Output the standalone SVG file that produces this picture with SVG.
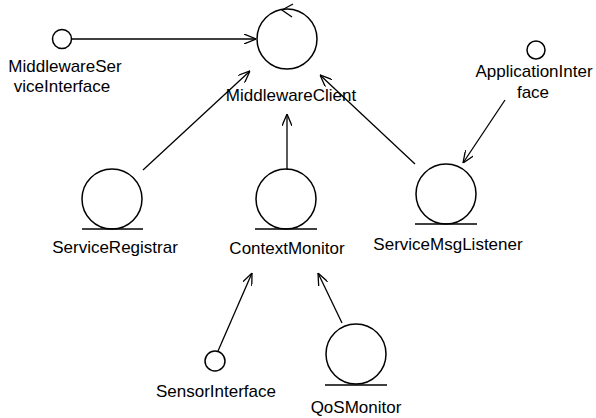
<svg xmlns="http://www.w3.org/2000/svg" width="596" height="418" viewBox="0 0 596 418">
<style>
.c{fill:none;stroke:#000;stroke-width:1.5}
.g{stroke:#000;stroke-width:1.5}
.l{fill:none;stroke:#000;stroke-width:1.3}
.t{font-family:"Liberation Sans",Arial,sans-serif;font-size:17px;fill:#000;text-anchor:middle}
</style>
<defs>
<marker id="arr" viewBox="0 0 12 10" refX="12" refY="5" markerWidth="12" markerHeight="10" markerUnits="userSpaceOnUse" orient="auto">
<path d="M0,0 L12,5 L0,10" fill="none" stroke="#000" stroke-width="1.3"/>
</marker>
</defs>
<rect width="596" height="418" fill="#fff"/>
<g id="connectors">
<line class="l" x1="72" y1="39" x2="256" y2="39" marker-end="url(#arr)"/>
<line class="l" x1="143" y1="170" x2="250" y2="71" marker-end="url(#arr)"/>
<line class="l" x1="287" y1="170" x2="287" y2="114" marker-end="url(#arr)"/>
<line class="l" x1="415" y1="164" x2="320" y2="75" marker-end="url(#arr)"/>
<line class="l" x1="505" y1="100" x2="463" y2="163" marker-end="url(#arr)"/>
<line class="l" x1="218" y1="351" x2="252" y2="273" marker-end="url(#arr)"/>
<line class="l" x1="342" y1="323" x2="318" y2="273" marker-end="url(#arr)"/>
</g>
<g id="MiddlewareClient">
<circle class="c" cx="287" cy="39" r="30"/>
<path class="l" d="M293,4 L282,10 L292,17"/>
<text class="t" x="291" y="101">MiddlewareClient</text>
</g>
<g id="MiddlewareServiceInterface">
<circle class="c" cx="62" cy="39" r="9.5"/>
<text class="t" x="65" y="72">MiddlewareSer</text>
<text class="t" x="62" y="92">viceInterface</text>
</g>
<g id="ApplicationInterface">
<circle class="c" cx="536" cy="50" r="9"/>
<text class="t" x="534" y="77">ApplicationInter</text>
<text class="t" x="533" y="98">face</text>
</g>
<g id="ServiceRegistrar">
<circle class="c" cx="112" cy="199" r="30"/>
<line class="g" x1="82" y1="229" x2="143" y2="229"/>
<text class="t" x="115" y="253">ServiceRegistrar</text>
</g>
<g id="ContextMonitor">
<circle class="c" cx="286" cy="199" r="30"/>
<line class="g" x1="255" y1="229" x2="317" y2="229"/>
<text class="t" x="287" y="254">ContextMonitor</text>
</g>
<g id="ServiceMsgListener">
<circle class="c" cx="446" cy="194" r="30"/>
<line class="g" x1="415" y1="224" x2="477" y2="224"/>
<text class="t" x="448" y="250">ServiceMsgListener</text>
</g>
<g id="SensorInterface">
<circle class="c" cx="215" cy="361" r="10"/>
<text class="t" x="216" y="397">SensorInterface</text>
</g>
<g id="QoSMonitor">
<circle class="c" cx="356" cy="354" r="30"/>
<line class="g" x1="325" y1="385" x2="387" y2="385"/>
<text class="t" x="356" y="413">QoSMonitor</text>
</g>
</svg>
